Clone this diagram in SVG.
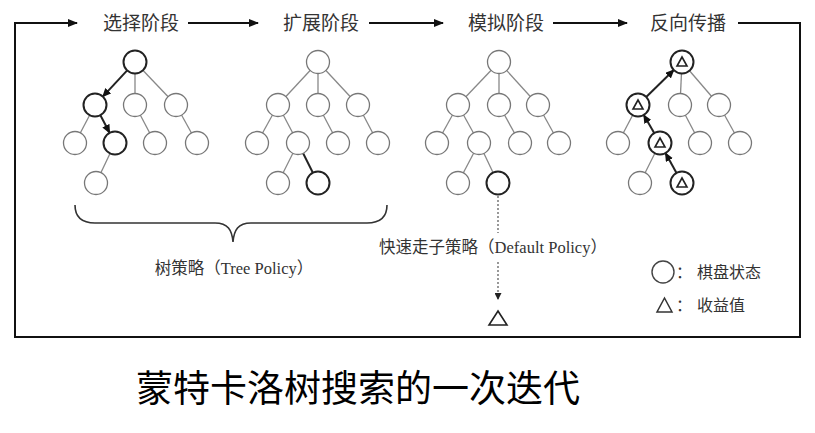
<svg xmlns="http://www.w3.org/2000/svg" width="815" height="433" viewBox="0 0 815 433">
<style>
.n{fill:#fff;stroke:#777;stroke-width:1.3}
.b{fill:#fff;stroke:#222;stroke-width:2}
.e{stroke:#888;stroke-width:1.3;fill:none}
.eb{stroke:#222;stroke-width:2;fill:none}
.tri{fill:none;stroke:#222;stroke-width:1.6}
.h{font-family:"Noto Sans CJK SC",sans-serif;font-size:19px;fill:#333}
.t{font-family:"Liberation Serif","Noto Sans CJK SC",serif;font-size:16.5px;fill:#333}
.lg{font-family:"Noto Sans CJK SC",sans-serif;font-size:16px;fill:#333}
.title{font-family:"Noto Sans CJK SC",sans-serif;font-size:37px;fill:#000}
</style>
<defs>
<marker id="ah" markerWidth="10" markerHeight="8" refX="9" refY="4" orient="auto" markerUnits="userSpaceOnUse">
<path d="M0,0 L10,4 L0,8 Z" fill="#111"/>
</marker>
<marker id="as" markerWidth="9" markerHeight="8" refX="8" refY="4" orient="auto" markerUnits="userSpaceOnUse">
<path d="M0,0 L9,4 L0,8 Z" fill="#111"/>
</marker>
<marker id="ad" markerWidth="7" markerHeight="7" refX="6" refY="3.5" orient="auto" markerUnits="userSpaceOnUse">
<path d="M0,0 L7,3.5 L0,7 Z" fill="#222"/>
</marker>
</defs>

<g id="connectors">
<!-- frame and stage arrows -->
<path d="M738,23 H800 V337 H15 V23 H77" fill="none" stroke="#111" stroke-width="2" marker-end="url(#ah)"/>
<line x1="188" y1="23" x2="258" y2="23" stroke="#111" stroke-width="2" marker-end="url(#ah)"/>
<line x1="369" y1="23" x2="443" y2="23" stroke="#111" stroke-width="2" marker-end="url(#ah)"/>
<line x1="553" y1="23" x2="627" y2="23" stroke="#111" stroke-width="2" marker-end="url(#ah)"/>

<!-- tree 1 edges -->
<line class="e" x1="135" y1="62" x2="135" y2="105"/>
<line class="e" x1="135" y1="62" x2="176" y2="105"/>
<line class="e" x1="95" y1="105" x2="75" y2="143"/>
<line class="e" x1="135" y1="105" x2="155" y2="143"/>
<line class="e" x1="176" y1="105" x2="197" y2="143"/>
<line class="e" x1="115" y1="143" x2="96" y2="183"/>
<line class="eb" x1="127.2" y1="70.4" x2="102.8" y2="96.6" marker-end="url(#as)"/>
<line class="eb" x1="100.4" y1="115.2" x2="109.6" y2="132.8" marker-end="url(#as)"/>

<!-- tree 2 edges -->
<line class="e" x1="318" y1="62" x2="278" y2="105"/>
<line class="e" x1="318" y1="62" x2="318" y2="105"/>
<line class="e" x1="318" y1="62" x2="358" y2="105"/>
<line class="e" x1="278" y1="105" x2="257" y2="143"/>
<line class="e" x1="278" y1="105" x2="298" y2="143"/>
<line class="e" x1="318" y1="105" x2="338" y2="143"/>
<line class="e" x1="358" y1="105" x2="378" y2="143"/>
<line class="e" x1="298" y1="143" x2="278" y2="183"/>
<line class="eb" x1="298" y1="143" x2="318" y2="183"/>

<!-- tree 3 edges -->
<line class="e" x1="499" y1="62" x2="458" y2="105"/>
<line class="e" x1="499" y1="62" x2="499" y2="105"/>
<line class="e" x1="499" y1="62" x2="538" y2="105"/>
<line class="e" x1="458" y1="105" x2="437" y2="143"/>
<line class="e" x1="458" y1="105" x2="479" y2="143"/>
<line class="e" x1="499" y1="105" x2="520" y2="143"/>
<line class="e" x1="538" y1="105" x2="559" y2="143"/>
<line class="e" x1="479" y1="143" x2="458" y2="183"/>
<line class="e" x1="479" y1="143" x2="498" y2="183"/>
<line x1="498" y1="196" x2="498" y2="233" stroke="#555" stroke-width="1.2" stroke-dasharray="2,2"/>
<line x1="498" y1="262" x2="498" y2="299" stroke="#555" stroke-width="1.2" stroke-dasharray="2,2" marker-end="url(#ad)"/>

<!-- tree 4 edges -->
<line class="e" x1="682" y1="62" x2="680" y2="105"/>
<line class="e" x1="682" y1="62" x2="719" y2="105"/>
<line class="e" x1="638" y1="105" x2="618" y2="143"/>
<line class="e" x1="680" y1="105" x2="700" y2="143"/>
<line class="e" x1="719" y1="105" x2="740" y2="143"/>
<line class="e" x1="660" y1="143" x2="640" y2="183"/>
<line class="eb" x1="676.5" y1="172.9" x2="665.5" y2="153.1" marker-end="url(#as)"/>
<line class="eb" x1="654.2" y1="133" x2="643.8" y2="115" marker-end="url(#as)"/>
<line class="eb" x1="646.2" y1="97" x2="673.8" y2="70" marker-end="url(#as)"/>

<!-- brace -->
<path d="M75,205 C75,216 80,223 95,223 L215,223 C228,223 232,230 233,242 C234,230 238,223 251,223 L367,223 C382,223 387,216 387,205" fill="none" stroke="#333" stroke-width="1.6"/>
</g>

<!-- stage labels -->
<g id="labels">
<text class="h" x="141" y="30" text-anchor="middle">选择阶段</text>
<text class="h" x="321" y="30" text-anchor="middle">扩展阶段</text>
<text class="h" x="506" y="30" text-anchor="middle">模拟阶段</text>
<text class="h" x="688" y="30" text-anchor="middle">反向传播</text>
<text class="t" x="234" y="274" text-anchor="middle">树策略（Tree Policy）</text>
<text class="t" x="493" y="253" text-anchor="middle">快速走子策略（Default Policy）</text>
</g>

<!-- tree 1 nodes -->
<g id="t1-root"><circle class="b" cx="135" cy="62" r="11.5"/></g>
<g id="t1-a"><circle class="b" cx="95" cy="105" r="11.5"/></g>
<g id="t1-b"><circle class="n" cx="135" cy="105" r="11.5"/></g>
<g id="t1-c"><circle class="n" cx="176" cy="105" r="11.5"/></g>
<g id="t1-a1"><circle class="n" cx="75" cy="143" r="11.5"/></g>
<g id="t1-a2"><circle class="b" cx="115" cy="143" r="11.5"/></g>
<g id="t1-b1"><circle class="n" cx="155" cy="143" r="11.5"/></g>
<g id="t1-c1"><circle class="n" cx="197" cy="143" r="11.5"/></g>
<g id="t1-d1"><circle class="n" cx="96" cy="183" r="11.5"/></g>

<!-- tree 2 nodes -->
<g id="t2-root"><circle class="n" cx="318" cy="62" r="11.5"/></g>
<g id="t2-a"><circle class="n" cx="278" cy="105" r="11.5"/></g>
<g id="t2-b"><circle class="n" cx="318" cy="105" r="11.5"/></g>
<g id="t2-c"><circle class="n" cx="358" cy="105" r="11.5"/></g>
<g id="t2-a1"><circle class="n" cx="257" cy="143" r="11.5"/></g>
<g id="t2-a2"><circle class="n" cx="298" cy="143" r="11.5"/></g>
<g id="t2-b1"><circle class="n" cx="338" cy="143" r="11.5"/></g>
<g id="t2-c1"><circle class="n" cx="378" cy="143" r="11.5"/></g>
<g id="t2-d1"><circle class="n" cx="278" cy="183" r="11.5"/></g>
<g id="t2-d2"><circle class="b" cx="318" cy="183" r="11.5"/></g>

<!-- tree 3 nodes -->
<g id="t3-root"><circle class="n" cx="499" cy="62" r="11.5"/></g>
<g id="t3-a"><circle class="n" cx="458" cy="105" r="11.5"/></g>
<g id="t3-b"><circle class="n" cx="499" cy="105" r="11.5"/></g>
<g id="t3-c"><circle class="n" cx="538" cy="105" r="11.5"/></g>
<g id="t3-a1"><circle class="n" cx="437" cy="143" r="11.5"/></g>
<g id="t3-a2"><circle class="n" cx="479" cy="143" r="11.5"/></g>
<g id="t3-b1"><circle class="n" cx="520" cy="143" r="11.5"/></g>
<g id="t3-c1"><circle class="n" cx="559" cy="143" r="11.5"/></g>
<g id="t3-d1"><circle class="n" cx="458" cy="183" r="11.5"/></g>
<g id="t3-d2"><circle class="b" cx="498" cy="183" r="11.5"/></g>
<g id="t3-reward"><path class="tri" d="M498,311 L507,325 L489,325 Z"/></g>

<!-- tree 4 nodes -->
<g id="t4-root"><circle class="b" cx="682" cy="62" r="11.5"/><path class="tri" d="M682,57 L687,66 L677,66 Z"/></g>
<g id="t4-a"><circle class="b" cx="638" cy="105" r="11.5"/><path class="tri" d="M638,100 L643,109 L633,109 Z"/></g>
<g id="t4-b"><circle class="n" cx="680" cy="105" r="11.5"/></g>
<g id="t4-c"><circle class="n" cx="719" cy="105" r="11.5"/></g>
<g id="t4-a1"><circle class="n" cx="618" cy="143" r="11.5"/></g>
<g id="t4-a2"><circle class="b" cx="660" cy="143" r="11.5"/><path class="tri" d="M660,138 L665,147 L655,147 Z"/></g>
<g id="t4-b1"><circle class="n" cx="700" cy="143" r="11.5"/></g>
<g id="t4-c1"><circle class="n" cx="740" cy="143" r="11.5"/></g>
<g id="t4-d1"><circle class="n" cx="640" cy="183" r="11.5"/></g>
<g id="t4-d2"><circle class="b" cx="682" cy="183" r="11.5"/><path class="tri" d="M682,178 L687,187 L677,187 Z"/></g>

<!-- legend -->
<g id="legend">
<circle cx="663" cy="272" r="11" fill="#fff" stroke="#444" stroke-width="1.4"/>
<text class="lg" x="676" y="278">：</text>
<text class="lg" x="697" y="278">棋盘状态</text>
<path d="M664.5,298 L672,312 L657,312 Z" fill="none" stroke="#333" stroke-width="1.5"/>
<text class="lg" x="676" y="311">：</text>
<text class="lg" x="697" y="311">收益值</text>
</g>

<g id="caption">
<text class="title" x="358" y="402" text-anchor="middle">蒙特卡洛树搜索的一次迭代</text>
</g>
</svg>
